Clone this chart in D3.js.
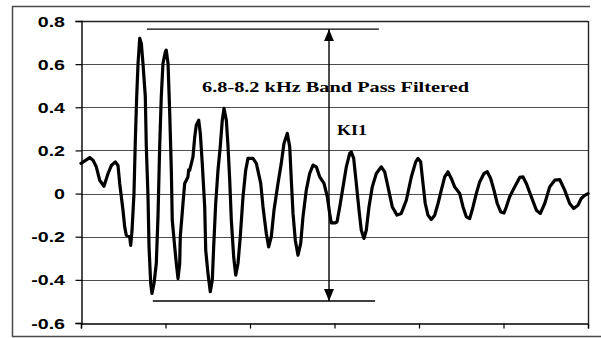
<!DOCTYPE html>
<html>
<head>
<meta charset="utf-8">
<script src="https://cdn.jsdelivr.net/npm/d3@7"></script>
<style>
  html, body { margin: 0; padding: 0; background: #fff; }
  svg { display: block; }
</style>
</head>
<body>
<svg id="chart" width="601" height="338"></svg>
<script>
// Filtered signal: sample position and amplitude
const sampleIdx = [
  0, 10.3, 14.2, 18.1, 22.1, 27.2, 32.0, 35.9, 40.6, 43.8, 45.8, 49.7, 51.7, 53.6, 57.6, 58.8,
  60.4, 62.7, 64.3, 65.9, 67.5, 69.5, 71.4, 73.4, 76.1, 77.3, 79.3, 80.5, 82.5, 84.0, 86.4, 89.1,
  91.1, 93.1, 95.0, 97.0, 99.8, 100.9, 103.0, 105.0, 106.9, 108.0, 110.9, 112.8, 114.8, 116.8, 117.5,
  120.7, 122.7, 126.6, 127.4, 128.6, 132.5, 134.6, 136.4, 139.3, 141.2, 143.5, 146.4, 147.6, 150.3,
  153.0, 155.4, 157.0, 159.4, 162.1, 164.8, 167.2, 169.2, 172.0, 174.0, 176.0, 177.9, 180.7, 183.1,
  185.8, 188.5, 191.7, 194.9, 197.6, 201.5, 203.5, 207.5, 212.7, 215.4, 219.3, 222.1, 225.2, 228.4,
  233.1, 237.0, 240.2, 244.1, 247.0, 248.9, 250.9, 253.6, 256.8, 260.0, 262.7, 266.6, 270.6, 274.6,
  278.5, 282.5, 287.6, 291.5, 294.3, 296.2, 300.9, 303.0, 306.2, 310.1, 314.0, 318.0, 319.9, 322.7,
  325.8, 329.0, 331.7, 334.9, 337.6, 340.8, 344.7, 349.5, 355.4, 359.4, 363.3, 368.4, 374.0, 379.0,
  385.0, 390.9, 396.1, 398.8, 402.0, 404.7, 407.4, 410.6, 414.5, 418.6, 422.5, 426.4, 430.4, 434.3,
  438.2, 442.2, 448.2, 452.1, 456.0, 460.0, 463.9, 467.8, 471.8, 476.9, 480.8, 484.8, 488.7, 492.6,
  496.7, 500.6, 503.3, 507.3, 513.2, 519.2, 523.1, 527.0, 532.9, 538.9, 543.6, 548.8, 554.7, 560.6,
  566.5, 572.4, 578.3, 583.1, 588.1, 592.0, 596.1, 600
];
const amplitude = [
  0.14, 0.167, 0.155, 0.124, 0.062, 0.034, 0.093, 0.13, 0.147, 0.13, 0.047, -0.077, -0.154, -0.193, -0.2, -0.24,
  -0.17, 0.0, 0.248, 0.449, 0.603, 0.72, 0.696, 0.6, 0.449, 0.217, -0.015, -0.247, -0.417, -0.463, -0.417, -0.324,
  -0.108, 0.217, 0.449, 0.603, 0.657, 0.665, 0.603, 0.372, 0.108, -0.123, -0.247, -0.324, -0.394, -0.324, -0.2,
  -0.046, 0.047, 0.077, 0.11, 0.108, 0.17, 0.263, 0.317, 0.34, 0.279, 0.14, -0.062, -0.263, -0.371,
  -0.455, -0.4, -0.247, -0.046, 0.108, 0.217, 0.34, 0.395, 0.34, 0.217, 0.062, -0.123, -0.294, -0.378,
  -0.324, -0.2, -0.015, 0.108, 0.163, 0.163, 0.163, 0.14, 0.047, -0.062, -0.185, -0.247, -0.2, -0.077,
  0.047, 0.14, 0.232, 0.279, 0.217, 0.062, -0.092, -0.216, -0.286, -0.231, -0.108, 0.016, 0.093, 0.132,
  0.124, 0.077, 0.047, -0.015, -0.092, -0.136, -0.136, -0.131, -0.062, 0.031, 0.124, 0.186, 0.193, 0.163,
  0.047, -0.077, -0.17, -0.208, -0.17, -0.062, 0.031, 0.093, 0.124, 0.101, 0.031, -0.062, -0.1, -0.092,
  -0.031, 0.077, 0.147, 0.163, 0.147, 0.047, -0.046, -0.1, -0.12, -0.1, -0.046, 0.016, 0.077, 0.101,
  0.07, 0.031, 0.0, -0.062, -0.108, -0.116, -0.062, 0.0, 0.054, 0.093, 0.101, 0.07, 0.016, -0.046,
  -0.085, -0.09, -0.062, -0.015, 0.031, 0.075, 0.077, 0.047, -0.015, -0.077, -0.092, -0.046, 0.031, 0.062,
  0.065, 0.016, -0.046, -0.069, -0.054, -0.023, -0.008, 0.0
];

const yTicks = [0.8, 0.6, 0.4, 0.2, 0, -0.2, -0.4, -0.6];
const yTickLabels = ["0.8", "0.6", "0.4", "0.2", "0", "-0.2", "-0.4", "-0.6"];
const xTicks = [0, 100, 200, 300, 400, 500, 600];

// Peak-to-peak marker (KI1): level lines and their extents
const kiTop = 0.762, kiBottom = -0.498;
const kiTopSpan = [78, 352.5];
const kiBottomSpan = [85, 348];
const kiArrowAt = 293.5;

const titleText = "6.8-8.2 kHz Band Pass Filtered";
const markerText = "KI1";

const svg = d3.select("#chart");
const plot = { left: 81, right: 588, top: 21, bottom: 323 };

const x = d3.scaleLinear().domain([0, 600]).range([plot.left, plot.right]);
const y = d3.scaleLinear().domain([-0.6, 0.8]).range([plot.bottom, plot.top]);

// Outer frame
svg.append("path")
  .attr("d", "M590,6.5 H12.5 V336.5 H601")
  .attr("fill", "none").attr("stroke", "#4a4a4a").attr("stroke-width", 1.5);

// Horizontal gridlines
svg.append("g").selectAll("line")
  .data(yTicks.filter(v => v > -0.6))
  .join("line")
  .attr("x1", plot.left).attr("x2", plot.right)
  .attr("y1", d => Math.round(y(d)) + 0.5).attr("y2", d => Math.round(y(d)) + 0.5)
  .attr("stroke", d => d === 0.8 ? "#222" : "#4d4d4d")
  .attr("stroke-width", d => d === 0.8 ? 1.4 : 1.2);

// Right edge of the plot area
svg.append("line")
  .attr("x1", plot.right + 0.5).attr("x2", plot.right + 0.5)
  .attr("y1", plot.top).attr("y2", plot.bottom)
  .attr("stroke", "#222").attr("stroke-width", 1.4);

// Y axis
const yAxis = d3.axisLeft(y).tickValues(yTicks).tickSize(6).tickFormat("");
const gy = svg.append("g").attr("transform", `translate(${plot.left + 0.5},0)`).call(yAxis);
gy.select(".domain").attr("stroke", "#000").attr("stroke-width", 1.4);
gy.selectAll(".tick line").attr("stroke", "#000").attr("stroke-width", 1.2);

svg.append("g").selectAll("text")
  .data(yTicks)
  .join("text")
  .attr("transform", d => `translate(65,${y(d) + 5.5}) scale(1.4,1)`)
  .attr("text-anchor", "end")
  .attr("font-family", "'Liberation Sans', Arial, sans-serif")
  .attr("font-weight", "bold")
  .attr("font-size", 14)
  .attr("fill", "#000")
  .text((d, i) => yTickLabels[i]);

// X axis (ticks only, no labels)
const xAxis = d3.axisBottom(x).tickValues(xTicks).tickSize(5).tickFormat("");
const gx = svg.append("g").attr("transform", `translate(0,${plot.bottom + 0.5})`).call(xAxis);
gx.select(".domain").attr("stroke", "#000").attr("stroke-width", 1.4);
gx.selectAll(".tick line").attr("stroke", "#000").attr("stroke-width", 1.2);

// Waveform
const pts = sampleIdx.map((s, i) => [s, amplitude[i]]);
svg.append("path")
  .datum(pts)
  .attr("fill", "none")
  .attr("stroke", "#000")
  .attr("stroke-width", 3.2)
  .attr("stroke-linejoin", "round")
  .attr("stroke-linecap", "round")
  .attr("d", d3.line().x(d => x(d[0])).y(d => y(d[1])).curve(d3.curveLinear));

// Peak-to-peak marker
const defs = svg.append("defs");
defs.append("marker")
  .attr("id", "head")
  .attr("viewBox", "0 0 12 10")
  .attr("refX", 12).attr("refY", 5)
  .attr("markerWidth", 12).attr("markerHeight", 10)
  .attr("markerUnits", "userSpaceOnUse")
  .attr("orient", "auto-start-reverse")
  .append("path").attr("d", "M0,0 L12,5 L0,10 Z").attr("fill", "#000");

svg.append("line")
  .attr("x1", x(kiTopSpan[0])).attr("x2", x(kiTopSpan[1]))
  .attr("y1", y(kiTop)).attr("y2", y(kiTop))
  .attr("stroke", "#000").attr("stroke-width", 1.3);
svg.append("line")
  .attr("x1", x(kiBottomSpan[0])).attr("x2", x(kiBottomSpan[1]))
  .attr("y1", y(kiBottom)).attr("y2", y(kiBottom))
  .attr("stroke", "#000").attr("stroke-width", 1.3);
svg.append("line")
  .attr("x1", x(kiArrowAt)).attr("x2", x(kiArrowAt))
  .attr("y1", y(kiTop)).attr("y2", y(kiBottom))
  .attr("stroke", "#000").attr("stroke-width", 1.4)
  .attr("marker-start", "url(#head)")
  .attr("marker-end", "url(#head)");

// Annotations
svg.append("text")
  .attr("x", 202).attr("y", 91.5)
  .attr("font-family", "'Liberation Serif', 'Times New Roman', serif")
  .attr("font-weight", "bold")
  .attr("font-size", 15.5)
  .attr("textLength", 267)
  .attr("lengthAdjust", "spacingAndGlyphs")
  .text(titleText);

svg.append("text")
  .attr("x", 337).attr("y", 135)
  .attr("font-family", "'Liberation Serif', 'Times New Roman', serif")
  .attr("font-weight", "bold")
  .attr("font-size", 14.5)
  .attr("textLength", 30)
  .attr("lengthAdjust", "spacingAndGlyphs")
  .text(markerText);
</script>
</body>
</html>
